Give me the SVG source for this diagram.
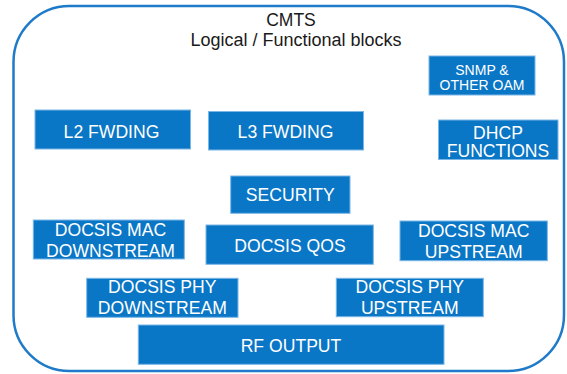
<svg xmlns="http://www.w3.org/2000/svg" width="567" height="374" viewBox="0 0 567 374">
  <style>
    .frame { fill: #ffffff; stroke: #1f7bc9; stroke-width: 2.5; }
    .title { font-family: "Liberation Sans", Arial, sans-serif; fill: #1a1a1a; text-anchor: middle; }
    .blk rect { fill: #0a76c6; stroke: #7ab6e6; stroke-width: 1; }
    .blk text { font-family: "Liberation Sans", Arial, sans-serif; font-size: 17.6px; fill: #ffffff; text-anchor: middle; }
    .blk.small text { font-size: 14px; }
  </style>

  <!-- CMTS outline -->
  <g id="cmts">
    <rect class="frame" x="13.5" y="6" width="550.5" height="365" rx="56" ry="56"/>
    <text class="title" x="291" y="26" font-size="17.5">CMTS</text>
    <text class="title" x="296" y="46" font-size="18">Logical / Functional blocks</text>
  </g>

  <g id="connectors"></g>

  <g id="snmp" class="blk small">
    <rect x="429" y="56" width="106" height="39"/>
    <text x="482" y="75">SNMP &amp;</text>
    <text x="482" y="90">OTHER OAM</text>
  </g>

  <g id="l2-fwding" class="blk">
    <rect x="35" y="110" width="155.5" height="39"/>
    <text x="111.5" y="137.5" font-size="18.5">L2 FWDING</text>
  </g>

  <g id="l3-fwding" class="blk">
    <rect x="208.5" y="111.5" width="155" height="38.5"/>
    <text x="285.5" y="137.5" font-size="18.2">L3 FWDING</text>
  </g>

  <g id="dhcp" class="blk">
    <rect x="438.5" y="120" width="119.5" height="39.5"/>
    <text x="498" y="138.5" font-size="17">DHCP</text>
    <text x="498" y="156.5" font-size="17.4">FUNCTIONS</text>
  </g>

  <g id="security" class="blk">
    <rect x="230.7" y="176" width="119.3" height="37.3"/>
    <text x="290.3" y="201">SECURITY</text>
  </g>

  <g id="docsis-mac-downstream" class="blk">
    <rect x="33.3" y="220" width="151" height="39"/>
    <text x="110.5" y="236">DOCSIS MAC</text>
    <text x="110.5" y="256.7" font-size="16.8">DOWNSTREAM</text>
  </g>

  <g id="docsis-qos" class="blk">
    <rect x="206" y="225" width="167.3" height="39.3"/>
    <text x="290" y="252.3">DOCSIS QOS</text>
  </g>

  <g id="docsis-mac-upstream" class="blk">
    <rect x="400" y="221" width="147.3" height="39.7"/>
    <text x="473.7" y="236.7">DOCSIS MAC</text>
    <text x="473.7" y="257.7">UPSTREAM</text>
  </g>

  <g id="docsis-phy-downstream" class="blk">
    <rect x="86.7" y="278.3" width="151.3" height="39"/>
    <text x="162.3" y="293.3">DOCSIS PHY</text>
    <text x="162.3" y="314" font-size="16.8">DOWNSTREAM</text>
  </g>

  <g id="docsis-phy-upstream" class="blk">
    <rect x="336.3" y="278.3" width="147" height="38.4"/>
    <text x="409.8" y="293.3">DOCSIS PHY</text>
    <text x="409.8" y="314">UPSTREAM</text>
  </g>

  <g id="rf-output" class="blk">
    <rect x="138.3" y="325" width="305.7" height="39.3"/>
    <text x="291" y="352.3">RF OUTPUT</text>
  </g>
</svg>
